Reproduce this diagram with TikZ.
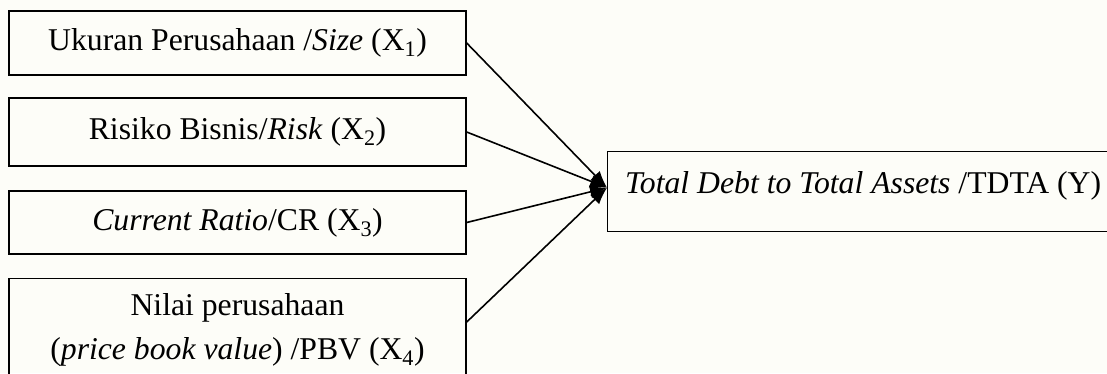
\documentclass[tikz,border=0pt]{standalone}
\usepackage{fontspec}
\setmainfont{Liberation Serif}
\usetikzlibrary{arrows.meta}
\definecolor{paper}{RGB}{253,253,248}
\begin{document}
\begin{tikzpicture}[x=1pt, y=-1pt,
    varbox/.style={draw, rectangle, line width=1.4pt, minimum width=457pt, minimum height=64pt, align=center, font=\fontsize{31.7}{44}\selectfont},
    link/.style={-{Latex[length=17pt,width=13pt]}, line width=1.6pt}]
    % Frame
    \fill[paper] (0,0) rectangle (1107,373);
    \useasboundingbox (0,0) rectangle (1107,373);

    % Independent variables
    \node[varbox] (size) at (237.5,43) {Ukuran Perusahaan /\textit{Size} (X\textsubscript{1})};

    \node[varbox, minimum height=68pt] (risk) at (237.5,132) {Risiko Bisnis/\textit{Risk} (X\textsubscript{2})};

    \node[varbox, minimum height=63pt] (cr) at (237.5,222.5) {\textit{Current Ratio}/CR (X\textsubscript{3})};

    \node[varbox, minimum height=103pt, anchor=north] (pbv) at (237.5,278) {Nilai perusahaan\\(\textit{price book value}) /PBV (X\textsubscript{4})};

    % Dependent variable
    \node[varbox, minimum width=511pt, minimum height=80pt, inner ysep=14pt, text height=28pt, text depth=24pt, anchor=north west] (tdta) at (607,151) {\textit{Total Debt to Total Assets} /TDTA (Y)};

    % Arrows
    \foreach \src in {size,risk,cr}
        \draw[link] (\src.east) -- ([yshift=4pt]tdta.west);
    \draw[link] ([yshift=-44pt]pbv.north east) -- ([yshift=4pt]tdta.west);
\end{tikzpicture}
\end{document}
